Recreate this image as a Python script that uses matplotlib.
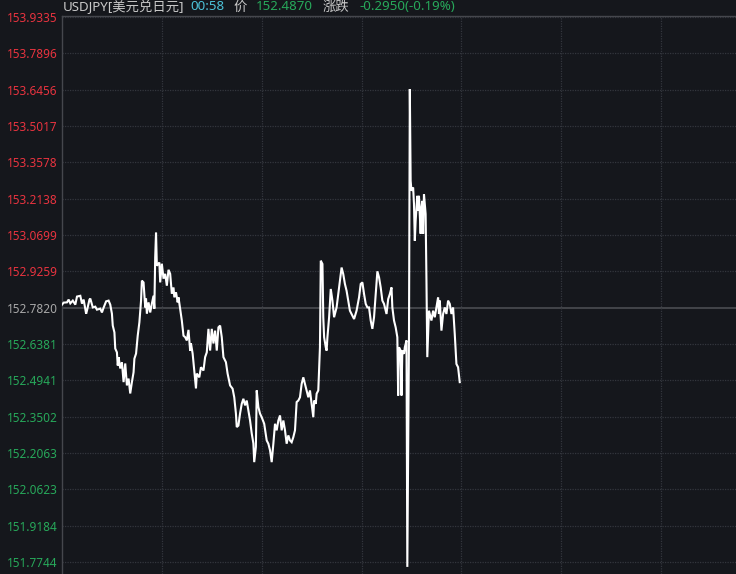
import matplotlib
matplotlib.use("Agg")
import matplotlib.pyplot as plt
import numpy as np

plt.rcParams['font.family'] = ['Noto Sans', 'Noto Sans CJK SC', 'DejaVu Sans']

# minutes after 17:00, USDJPY price
minutes = [0, 2, 6, 8, 10, 13, 16, 18, 22, 24, 26, 29, 30, 33, 34, 37, 40, 42, 46, 48,
           50, 53, 56, 58, 60, 61, 63, 64, 66, 67, 68, 70, 72, 74, 76, 78, 80, 82, 84, 86,
           87, 89, 91, 93, 95, 96, 98, 100, 101, 102, 104, 106, 108, 110, 111, 112, 113, 114, 117, 118,
           120, 122, 124, 126, 128, 130, 132, 134, 135, 137, 139, 140, 142, 144, 146, 148, 150, 152, 154, 155,
           157, 159, 161, 162, 165, 167, 170, 172, 174, 176, 178, 180, 182, 184, 186, 188, 190, 192, 194, 197,
           199, 202, 205, 207, 209, 210, 212, 214, 216, 218, 220, 222, 224, 226, 228, 230, 231, 233, 234, 236,
           238, 240, 243, 246, 248, 250, 252, 254, 256, 258, 260, 262, 264, 266, 268, 270, 272, 274, 276, 278,
           280, 282, 284, 286, 288, 290, 292, 294, 296, 298, 300, 302, 303, 305, 306, 308, 310, 311, 313, 314,
           315, 317, 318, 319, 321, 323, 325, 327, 330, 332, 334, 336, 338, 340, 342, 344, 346, 349, 351, 354,
           357, 359, 361, 363, 365, 367, 369, 371, 373, 375, 377, 379, 381, 383, 385, 387, 389, 390, 392, 394,
           396, 397, 399, 401, 403, 404, 405, 407, 408, 409, 411, 412, 414, 415, 417, 418, 419, 420, 422, 423,
           424, 425, 427, 428, 429, 431, 432, 433, 434, 435, 437, 438, 439, 441, 442, 444, 446, 448, 450, 452,
           453, 454, 456, 458, 460, 462, 464, 466, 468, 470, 472, 474, 476, 478]
prices = [152.794, 152.802, 152.803, 152.814, 152.799, 152.810, 152.794, 152.826, 152.829, 152.798,
          152.814, 152.758, 152.770, 152.814, 152.818, 152.783, 152.786, 152.774, 152.778, 152.763,
          152.782, 152.807, 152.810, 152.794, 152.758, 152.711, 152.684, 152.620, 152.605, 152.553,
          152.586, 152.541, 152.566, 152.487, 152.561, 152.474, 152.501, 152.442, 152.487, 152.526,
          152.580, 152.600, 152.671, 152.724, 152.810, 152.889, 152.882, 152.783, 152.818, 152.758,
          152.803, 152.763, 152.798, 152.829, 152.778, 152.981, 153.079, 152.948, 152.961, 152.882,
          152.956, 152.897, 152.916, 152.869, 152.932, 152.916, 152.837, 152.862, 152.823, 152.843,
          152.803, 152.823, 152.778, 152.731, 152.671, 152.665, 152.652, 152.694, 152.612, 152.640,
          152.600, 152.533, 152.462, 152.521, 152.506, 152.546, 152.533, 152.586, 152.605, 152.698,
          152.612, 152.698, 152.640, 152.691, 152.612, 152.704, 152.711, 152.665, 152.586, 152.566,
          152.521, 152.474, 152.461, 152.427, 152.363, 152.309, 152.315, 152.363, 152.401, 152.421,
          152.395, 152.414, 152.375, 152.335, 152.284, 152.244, 152.170, 152.230, 152.454, 152.388,
          152.362, 152.348, 152.322, 152.256, 152.243, 152.217, 152.170, 152.243, 152.322, 152.296,
          152.335, 152.355, 152.296, 152.335, 152.296, 152.243, 152.276, 152.256, 152.249, 152.269,
          152.296, 152.408, 152.414, 152.427, 152.480, 152.506, 152.480, 152.454, 152.427, 152.454,
          152.401, 152.348, 152.414, 152.401, 152.441, 152.454, 152.625, 152.968, 152.955, 152.744,
          152.665, 152.625, 152.612, 152.665, 152.744, 152.856, 152.810, 152.744, 152.783, 152.836,
          152.889, 152.941, 152.915, 152.876, 152.849, 152.810, 152.770, 152.750, 152.737, 152.770,
          152.823, 152.876, 152.882, 152.836, 152.797, 152.783, 152.783, 152.731, 152.698, 152.744,
          152.836, 152.926, 152.902, 152.862, 152.810, 152.797, 152.770, 152.757, 152.816, 152.836,
          152.862, 152.783, 152.731, 152.704, 152.665, 152.434, 152.625, 152.612, 152.434, 152.612,
          152.599, 152.625, 152.652, 151.755, 152.671, 153.648, 153.284, 153.245, 153.258, 153.193,
          153.047, 153.126, 153.225, 153.166, 153.225, 153.075, 153.179, 153.205, 153.075, 153.232,
          153.153, 152.889, 152.586, 152.770, 152.757, 152.731, 152.770, 152.744, 152.783, 152.823,
          152.757, 152.810, 152.691, 152.757, 152.783, 152.757, 152.810, 152.797, 152.757, 152.783,
          152.678, 152.559, 152.546, 152.487]

prev_close = 152.7820
y_ticks = [153.9335, 153.7896, 153.6456, 153.5017, 153.3578, 153.2138, 153.0699, 152.9259,
           152.7820, 152.6381, 152.4941, 152.3502, 152.2063, 152.0623, 151.9184, 151.7744]
x_grid = [120, 240, 360, 480, 600, 720]
total_minutes = 810

bg = '#15171c'
red = '#e8333f'
green = '#27a85a'
grid_c = '#33363d'

fig = plt.figure(figsize=(7.36, 5.74), dpi=100, facecolor=bg)
ax = fig.add_axes([62 / 736, 0, 1 - 62 / 736, 558 / 574])
ax.set_facecolor(bg)

step = (y_ticks[0] - y_ticks[-1]) / 545.0
ax.set_ylim(y_ticks[-1] - 12 * step, y_ticks[0] + 1 * step)
ax.set_xlim(0, total_minutes)

for v in y_ticks:
    if v == prev_close:
        ax.axhline(v, color='#4b4d52', lw=1.2, zorder=1)
    else:
        ax.axhline(v, color=grid_c, lw=0.9, ls=(0, (1, 1)), zorder=1)
for gx in x_grid:
    ax.axvline(gx, color=grid_c, lw=0.9, ls=(0, (1, 1)), zorder=1)

ax.plot(minutes, prices, color='white', lw=1.5, zorder=3, solid_joinstyle='miter')

for s in ['right', 'bottom']:
    ax.spines[s].set_visible(False)
ax.spines['left'].set_color('#45474d')
ax.spines['top'].set_color('#45474d')
ax.spines['left'].set_linewidth(1)
ax.spines['top'].set_linewidth(1)

ax.set_xticks([])
ax.set_yticks(y_ticks)
ax.set_yticklabels(['%.4f' % v for v in y_ticks], fontsize=8.5)
ax.tick_params(axis='y', length=0, pad=3)
for lab, v in zip(ax.get_yticklabels(), y_ticks):
    if v > prev_close:
        lab.set_color(red)
    elif v < prev_close:
        lab.set_color(green)
    else:
        lab.set_color('#a8a8a8')

# header line
hy = 1 - 7 / 574
parts = [(63, 'USDJPY[美元兑日元]', '#c9c9c9'),
         (190, '00:58', '#4cc3d9'),
         (233, '价', '#c9c9c9'),
         (256, '152.4870', green),
         (323, '涨跌', '#c9c9c9'),
         (359, '-0.2950(-0.19%)', green)]
for px, txt, c in parts:
    fig.text(px / 736, hy, txt, color=c, fontsize=9.6, ha='left', va='center')

fig.savefig('out.png', dpi=100, facecolor=bg)
